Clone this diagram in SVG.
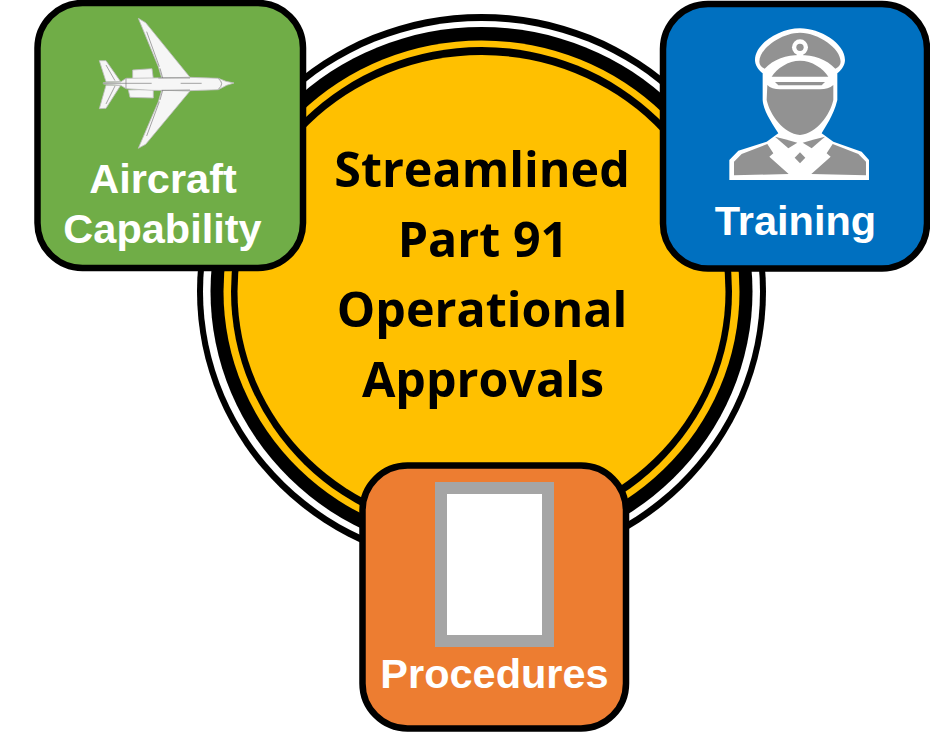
<svg xmlns="http://www.w3.org/2000/svg" width="930" height="732" viewBox="0 0 930 732">
<defs>
<filter id="soft" x="-5%" y="-5%" width="110%" height="110%"><feGaussianBlur stdDeviation="0.5"/></filter>
</defs>
<style>
.card{stroke:#000;stroke-width:6.500}
.lab{font-family:"Liberation Sans",Arial,sans-serif;font-weight:700;font-size:41.500px;fill:#fff;text-anchor:middle}
.main{font-family:"Open Sans","Noto Sans",sans-serif;font-weight:700;font-size:48.400px;fill:#000;text-anchor:middle}
.pl{fill:#f6f6f6;stroke:#bdbdbd;stroke-width:2.500;stroke-linejoin:round}
.pd{fill:none;stroke:#777;stroke-width:2}
.g{fill:#929292}
</style>
<g id="hub">
<ellipse cx="481.500" cy="291.500" rx="284.500" ry="277.500" fill="#000"/>
<ellipse cx="481.500" cy="291.500" rx="278.500" ry="270.500" fill="#fff"/>
<ellipse cx="481.500" cy="291.500" rx="271" ry="264.500" fill="#000"/>
<ellipse cx="481.500" cy="291.500" rx="258" ry="251" fill="#ffc000"/>
<ellipse cx="481.500" cy="291.500" rx="250.500" ry="244.500" fill="#000"/>
<ellipse cx="481.500" cy="291.500" rx="244" ry="236.500" fill="#ffc000"/>
<text class="main" x="482" y="187">Streamlined</text>
<text class="main" x="483" y="257">Part 91</text>
<text class="main" x="482" y="327">Operational</text>
<text class="main" x="483" y="397">Approvals</text>
</g>
<g id="aircraft">
<rect class="card" x="37.500" y="3" width="265.500" height="265" rx="45" fill="#70ad47"/>
<g id="plane" transform="translate(90 10) scale(.3333)" filter="url(#soft)">
<path class="pl" d="M145 25L167 38L300 202L215 204L205 170Z"/>
<path class="pl" d="M145 415L167 403L300 243L215 241L205 275Z"/>
<path class="pl" d="M28 152L48 152L92 215L48 215Z"/>
<path class="pl" d="M28 296L48 295L92 226L48 226Z"/>
<path class="pl" d="M128 180L186 176L190 206L128 206Z"/>
<path class="pl" d="M115 240L190 238L190 264L120 262Z"/>
<path class="pl" d="M92 216L108 205L185 204L300 202L385 205L408 214L432 219L410 226L385 239L300 242L185 241L108 236L92 226L40 222L40 218Z"/>
<path class="pd" d="M40 220L185 220M205 204L300 204M215 241L300 240M272 220L335 220"/>
<path class="pd" d="M385 206Q405 220 385 238M108 205L108 236M210 175L218 204M210 270L218 241"/>
<path class="pd" d="M170 65L208 170M170 378L208 275M48 165L75 212M48 282L75 228"/>
</g>
<text class="lab" x="163" y="193">Aircraft</text>
<text class="lab" x="162.500" y="243">Capability</text>
</g>
<g id="training">
<rect class="card" x="663" y="4" width="264" height="264.500" rx="45" fill="#0070c0"/>
<g id="pilot" transform="translate(720 20) scale(.3333)" filter="url(#soft)">
<path fill="#fff" d="M105 120C105 70 180 25 240 25C300 25 375 70 375 120C375 135 365 150 352 160L352 240C340 290 315 320 305 340L340 365L425 395L447 420L447 480L28 480L28 420L55 392L140 365L175 340C150 300 130 270 128 240L128 160C115 150 105 135 105 120Z"/>
<path class="g" d="M118 125C118 85 185 38 240 38C295 38 362 85 362 125C362 135 355 142 346 146C320 118 280 105 240 105C200 105 160 118 134 146C125 142 118 135 118 125Z"/>
<path fill="#fff" d="M232 95L248 95L250 110L230 110Z"/>
<circle cx="240" cy="82" r="24" fill="#fff"/>
<circle cx="240" cy="82" r="11" class="g"/>
<path class="g" d="M155 170C170 145 205 122 240 122C275 122 310 145 325 170Z"/>
<path class="g" d="M165 186L315 186L305 196L175 196Z"/>
<path class="g" d="M142 195Q155 208 180 208L300 208Q325 208 340 195L340 240C330 285 290 340 240 345C190 340 150 285 140 240Z"/>
<path class="g" id="bl" d="M42 466L42 425L65 402L142 372L160 400L148 410L206 462Z"/>
<path class="g" d="M438 466L438 425L415 402L338 372L320 400L332 410L274 462Z"/>
<path class="g" d="M165 350L205 385L232 368L195 358Z"/>
<path class="g" d="M315 350L275 385L248 368L285 358Z"/>
<path class="g" d="M240 397L256 413L240 430L224 413Z"/>
</g>
<text class="lab" x="795.500" y="235">Training</text>
</g>
<g id="procedures">
<rect class="card" x="362.500" y="465.500" width="263.500" height="263" rx="45" fill="#ed7d31"/>
<rect x="441" y="488" width="107" height="153" fill="#fff" stroke="#a5a5a5" stroke-width="12"/>
<text class="lab" x="494.500" y="688">Procedures</text>
</g>
</svg>
